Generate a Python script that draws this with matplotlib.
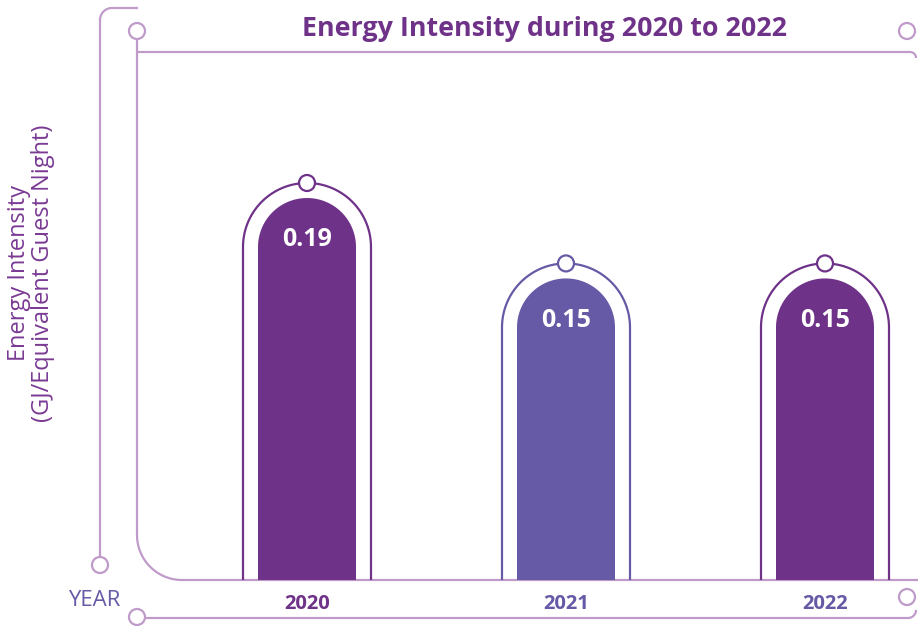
import numpy as np
import matplotlib
matplotlib.use("Agg")
import matplotlib.pyplot as plt
from matplotlib.patches import Circle, Polygon, Ellipse

plt.rcParams['font.family'] = ['Open Sans', 'DejaVu Sans']

# ---- data ----
years = ["2020", "2021", "2022"]
values = [0.19, 0.15, 0.15]
value_labels = ["0.19", "0.15", "0.15"]
title = "Energy Intensity during 2020 to 2022"
ylabel = "Energy Intensity\n(GJ/Equivalent Guest Night)"
xlabel = "YEAR"

# ---- style ----
PURPLE = "#6F3289"
BLUE = "#665AA6"
bar_colors = [PURPLE, BLUE, PURPLE]
label_colors = [PURPLE, BLUE, BLUE]
LINE = "#C09BCA"
W, H = 918, 626
DPI = 100

fig = plt.figure(figsize=(W / DPI, H / DPI), dpi=DPI)
deco = fig.add_axes([0, 0, 1, 1])
deco.set_xlim(0, W)
deco.set_ylim(H, 0)
deco.axis("off")

lw = 1.6

def rounded_path(points, color, z=1):
    deco.plot([p[0] for p in points], [p[1] for p in points], color=color,
              lw=lw, solid_capstyle="butt", zorder=z)

def arc(cx, cy, r, a0, a1, n=30):
    t = np.radians(np.linspace(a0, a1, n))
    return list(zip(cx + r * np.cos(t), cy + r * np.sin(t)))

# outer bracket (y axis downwards in pixel coords)
pts = [(138, 8)] + arc(112, 20, 12, 270, 180) + [(100, 557)]
rounded_path(pts, LINE)
deco.add_patch(Circle((100, 565), 8, fc="white", ec=LINE, lw=lw, zorder=3))

# inner box
pts = [(137, 39)] + arc(182, 535, 45, 180, 90) + [(918, 580)]
rounded_path(pts, LINE)
deco.add_patch(Circle((137, 31), 8, fc="white", ec=LINE, lw=lw, zorder=3))
pts = [(137, 52)] + [(910, 52)] + arc(910, 58, 6, 270, 360)
rounded_path(pts, LINE)
deco.add_patch(Circle((907, 31), 8, fc="white", ec=LINE, lw=lw, zorder=3))

# bottom line
pts = [(145, 618)] + [(908, 618)] + arc(908, 610, 8, 90, 0)
rounded_path(pts, LINE)
deco.add_patch(Circle((137, 617), 8, fc="white", ec=LINE, lw=lw, zorder=3))
deco.add_patch(Circle((907, 597), 8, fc="white", ec=LINE, lw=lw, zorder=3))

# texts
deco.text(544, 29, title, ha="center", va="center", fontsize=19.3,
          fontweight="bold", color=PURPLE)
deco.text(94, 600, xlabel, ha="center", va="center", fontsize=16, color=BLUE)
deco.text(31, 273, ylabel, ha="center", va="center", fontsize=17,
          color="#7A3A94", rotation=90, linespacing=1.05)

# ---- data axes ----
left_px, right_px = 137, 918
base_px, top_px = 580, 52
ax = fig.add_axes([left_px / W, (H - base_px) / H,
                   (right_px - left_px) / W, (base_px - top_px) / H])
ax.patch.set_alpha(0)
ax.axis("off")
spacing = 259.0
c0 = 307.0
ax.set_xlim(-(c0 - left_px) / spacing, (right_px - c0) / spacing)
unit_per_px = 0.19 / 382.0
ax.set_ylim(0, (base_px - top_px) * unit_per_px)

x = np.arange(len(years))
fill_w = 98 / spacing
bars = ax.bar(x, values, width=fill_w, color="none", edgecolor="none")

x0, x1 = ax.get_xlim()
y0, y1 = ax.get_ylim()
dx = (x1 - x0) / (right_px - left_px)
dy = (y1 - y0) / (base_px - top_px)

def arch_points(cx, half_w, top, n=60):
    ry = (half_w / dx) * dy
    t = np.linspace(np.pi, 0, n)
    return cx + half_w * np.cos(t), top - ry + ry * np.sin(t)

offset_px = 15
for i, b in enumerate(bars):
    cx = b.get_x() + b.get_width() / 2
    v = b.get_height()
    col = bar_colors[i]
    hw = b.get_width() / 2
    xs, ys = arch_points(cx, hw, v)
    poly = list(zip(xs, ys)) + [(cx + hw, 0), (cx - hw, 0)]
    ax.add_patch(Polygon(poly, closed=True, fc=col, ec="none", zorder=2))
    ohw = hw + offset_px * dx
    otop = v + offset_px * dy
    xs, ys = arch_points(cx, ohw, otop)
    ox = np.concatenate([[cx - ohw], xs, [cx + ohw]])
    oy = np.concatenate([[0], ys, [0]])
    ax.plot(ox, oy, color=col, lw=lw, zorder=3, solid_capstyle="butt")
    r_px = 8
    ax.add_patch(Ellipse((cx, otop), 2 * r_px * dx, 2 * r_px * dy,
                         fc="white", ec=col, lw=lw, zorder=4))
    ax.text(cx, v - 42 * dy, value_labels[i], ha="center", va="center",
            fontsize=18, fontweight="bold", color="white", zorder=5)
    ax.text(cx, -(604 - base_px) * dy, years[i], ha="center", va="center",
            fontsize=14.5, fontweight="bold", color=label_colors[i], clip_on=False)

fig.savefig("out.png", dpi=DPI)
